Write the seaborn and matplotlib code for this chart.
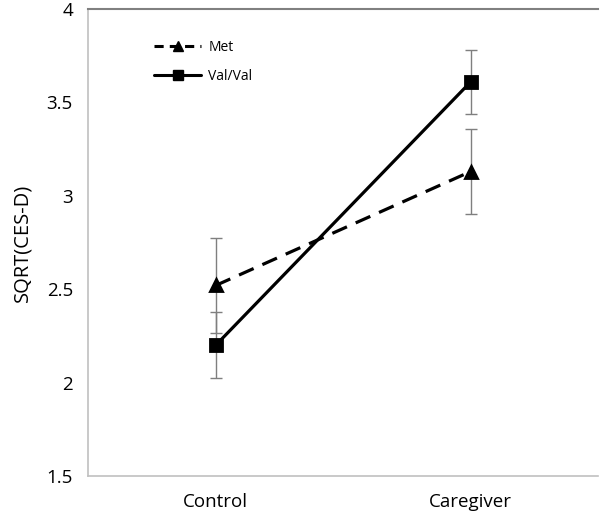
import pandas as pd
import seaborn as sns
import matplotlib.pyplot as plt

# values
groups = ["Control", "Caregiver"]
met_means = [2.52, 3.13]
met_errs = [0.255, 0.23]
val_means = [2.20, 3.61]
val_errs = [0.178, 0.172]
series_names = ["Met", "Val/Val"]
y_ticks = [1.5, 2, 2.5, 3, 3.5, 4]
y_tick_labels = ["1.5", "2", "2.5", "3", "3.5", "4"]

df = pd.DataFrame({
    "group": groups * 2,
    "genotype": [series_names[0]] * 2 + [series_names[1]] * 2,
    "value": met_means + val_means,
    "err": met_errs + val_errs,
})

sns.set_style("white")
plt.rcParams["font.family"] = ["Open Sans", "DejaVu Sans"]
plt.rcParams["text.color"] = "black"
plt.rcParams["axes.labelcolor"] = "black"
plt.rcParams["xtick.labelcolor"] = "black"
plt.rcParams["ytick.labelcolor"] = "black"

fig = plt.figure(figsize=(6.0, 5.17), dpi=100)
ax = fig.add_axes([0.147, 0.0793, 0.850, 0.9033])

# gray error bars behind the markers
for name in series_names:
    sub = df[df["genotype"] == name]
    ax.errorbar(range(len(groups)), sub["value"], yerr=sub["err"], fmt="none",
                ecolor="#7f7f7f", elinewidth=1.0, capsize=4, capthick=1.0, zorder=1)

sns.pointplot(data=df, x="group", y="value", hue="genotype", order=groups,
              hue_order=series_names, palette=["black", "black"],
              markers=["^", "s"], linestyles=["--", "-"], errorbar=None,
              dodge=False, ax=ax, legend=False)

for line in ax.lines:
    if len(line.get_xdata()) == 2:
        line.set_linewidth(2.3)
        line.set_zorder(3)
        if line.get_marker() == "^":
            line.set_markersize(9)
            line.set_dashes([5, 3])
        else:
            line.set_markersize(8.5)

ax.set_xlim(-0.5, 1.5)
ax.set_ylim(1.5, 4)
ax.set_yticks(y_ticks)
ax.set_yticklabels(y_tick_labels)
ax.set_xlabel("")
ax.set_ylabel("SQRT(CES-D)", fontsize=14.5, labelpad=10)
ax.tick_params(axis="y", direction="out", length=7, width=1, color="#bfbfbf",
               labelsize=13.5, pad=4)
ax.tick_params(axis="x", length=0, labelsize=13.5, pad=12)

ax.spines["right"].set_visible(False)
ax.spines["top"].set_color("#808080")
ax.spines["top"].set_linewidth(1.5)
for s in ("left", "bottom"):
    ax.spines[s].set_color("#c0c0c0")
    ax.spines[s].set_linewidth(1.2)

# legend: line with marker in the middle, no frame
handles = [
    plt.Line2D([], [], color="black", ls="--", dashes=[3, 2], lw=2.2, marker="^", markersize=7),
    plt.Line2D([], [], color="black", ls="-", lw=2.2, marker="s", markersize=7),
]
ax.legend(handles, series_names, loc="upper left", bbox_to_anchor=(0.105, 0.96),
          frameon=False, fontsize=10, handlelength=3.4, handletextpad=0.5,
          labelspacing=1.0)

fig.savefig("out.png", dpi=100)
